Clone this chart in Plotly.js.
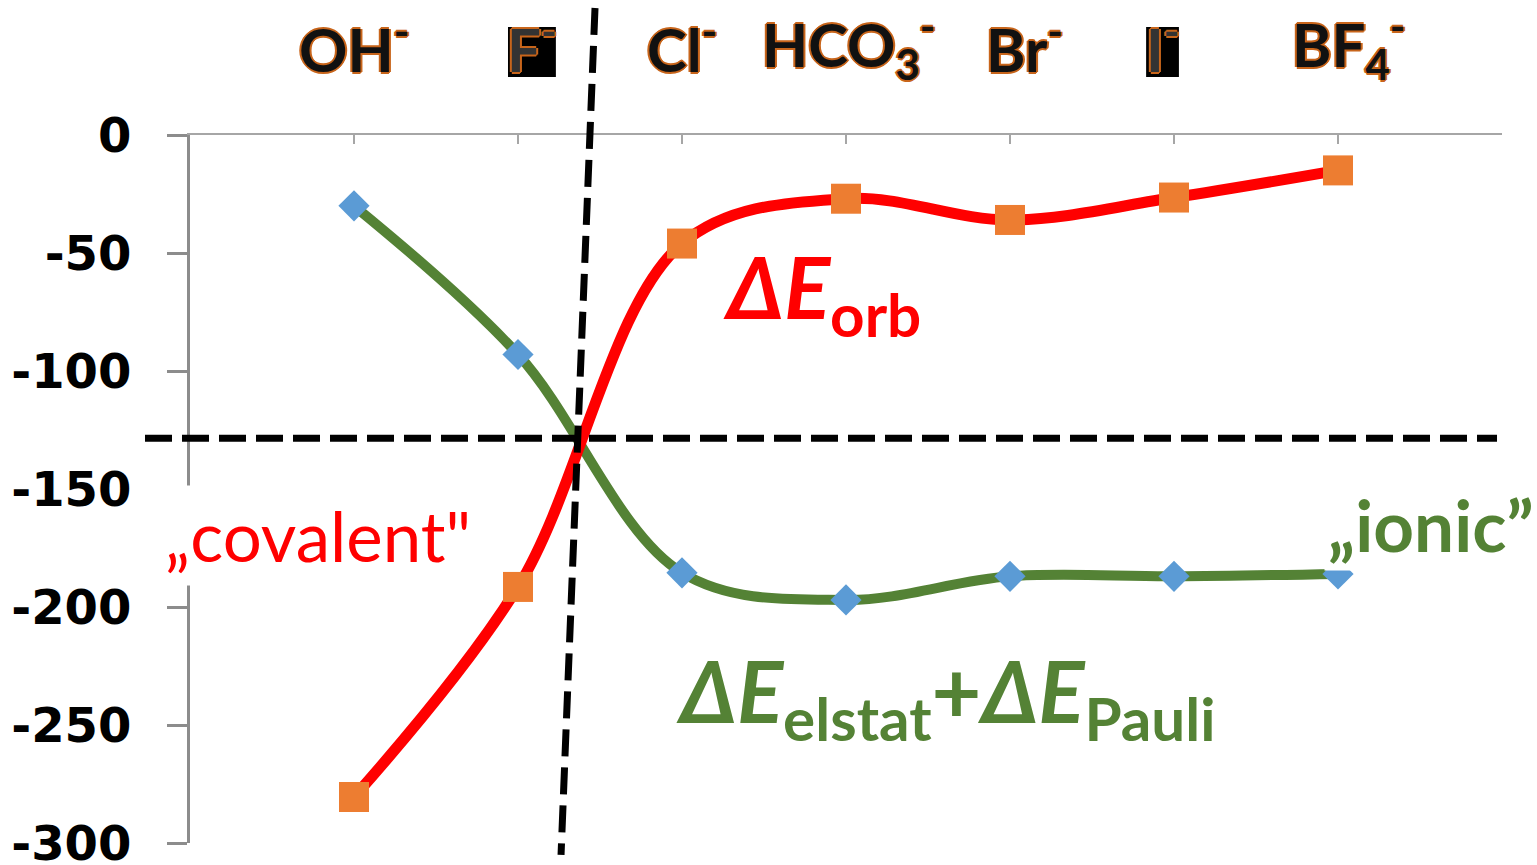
<!DOCTYPE html>
<html><head><meta charset="utf-8">
<script src="https://cdn.plot.ly/plotly-3.0.1.min.js"></script>
<style>html,body{margin:0;padding:0;background:#fff;overflow:hidden;}</style>
</head><body><div id="chart" style="width:1537px;height:865px;"></div>
<script>
// ---- data ----
const categories = ["OH<sup>-</sup>", "F<sup>-</sup>", "Cl<sup>-</sup>", "HCO<sub>3</sub><sup>-</sup>", "Br<sup>-</sup>", "I<sup>-</sup>", "BF<sub>4</sub><sup>-</sup>"];
const boxedLabels = [false, true, false, false, false, true, false];
const catPos = [1, 2, 3, 4, 5, 6, 7];
const labelOffset = [0, 0.085, 0, 0.02, 0.09, -0.07, 0.07];
const orbValues = [-280.5, -191.5, -46, -27, -36, -26.5, -15];
const elstatPauliValues = [-30, -93, -185.5, -197, -187, -187, -186];
const yTicks = [0, -50, -100, -150, -200, -250, -300];
const crossY = -128.5;

const yMin = -300, yMax = 0, xMin = 0, xMax = 8;
const toPaperY = v => (v - yMin) / (yMax - yMin);
const toPaperX = v => (v - xMin) / (xMax - xMin);

const green = '#548235';
const red = '#FF0000';
const outline = '#C8651B';
const wordArtShadow = `2px 0 ${outline}, -2px 0 ${outline}, 0 2px ${outline}, 0 -2px ${outline}, 1px 1px ${outline}, -1px -1px ${outline}`;

const traces = [
  {
    x: catPos, y: elstatPauliValues, type: 'scatter', mode: 'lines+markers',
    line: {color: green, width: 10, shape: 'spline', smoothing: 1},
    marker: {symbol: 'diamond', size: 24, color: '#5B9BD5'},
    hoverinfo: 'skip'
  },
  {
    x: catPos, y: orbValues, type: 'scatter', mode: 'lines+markers',
    line: {color: red, width: 11, shape: 'spline', smoothing: 1},
    marker: {symbol: 'square', size: 30, color: '#ED7D31'},
    hoverinfo: 'skip'
  }
];

const labelY = 1.127;
const annotations = categories.map((c, i) => ({
  x: catPos[i] + labelOffset[i], xref: 'x', y: labelY, yref: 'paper',
  text: c, showarrow: false, xanchor: 'center', yanchor: 'middle',
  font: {family: 'Lato', size: 60, weight: 'bold', color: boxedLabels[i] ? '#333333' : '#111111', shadow: wordArtShadow}
}));

annotations.push(
  {x: 3.24, xref: 'x', y: -66.5, yref: 'y', xanchor: 'left', yanchor: 'middle', showarrow: false,
   text: '<i>ΔE</i><sub>orb</sub>', font: {family: 'Lato', size: 86, weight: 'bold', color: red}},
  {x: 4.61, xref: 'x', y: -237.5, yref: 'y', xanchor: 'center', yanchor: 'middle', showarrow: false,
   text: '<i>ΔE</i><sub>elstat</sub>+<i>ΔE</i><sub>Pauli</sub>', font: {family: 'Lato', size: 86, weight: 'bold', color: green}},
  {x: 0.78, xref: 'x', y: -169.5, yref: 'y', xanchor: 'center', yanchor: 'middle', showarrow: false,
   text: '„covalent"', bgcolor: '#ffffff', borderpad: 8, font: {family: 'Lato', size: 69, color: red}},
  {x: 7.567, xref: 'x', y: -165, yref: 'y', xanchor: 'center', yanchor: 'middle', showarrow: false,
   text: '„ionic”', bgcolor: '#ffffff', borderpad: 3, font: {family: 'Lato', size: 71, weight: 'bold', color: green}}
);

// black boxes behind the F- and I- labels
const boxHalfW = [0, 0.146, 0, 0, 0, 0.10, 0];
const shapes = [];
categories.forEach((c, i) => {
  if (!boxedLabels[i]) return;
  const cx = catPos[i] + labelOffset[i];
  shapes.push({type: 'rect', xref: 'paper', yref: 'paper',
    x0: toPaperX(cx - boxHalfW[i]), x1: toPaperX(cx + boxHalfW[i]), y0: 1.0819, y1: 1.1525,
    fillcolor: '#000', line: {width: 0}, layer: 'above'});
});
shapes.push(
  {type: 'line', xref: 'paper', yref: 'paper', x0: -0.0343, x1: 0.9962, y0: toPaperY(crossY), y1: toPaperY(crossY),
   line: {color: '#000', width: 7, dash: '27px,10px'}, layer: 'above'},
  {type: 'line', xref: 'paper', yref: 'paper', x0: 0.3087, y0: 1.1794, x1: 0.2828, y1: -0.0169,
   line: {color: '#000', width: 7, dash: '27px,11px'}, layer: 'above'}
);

const layout = {
  width: 1537, height: 865,
  margin: {l: 190, r: 35, t: 135, b: 22, pad: 0},
  paper_bgcolor: '#fff', plot_bgcolor: '#fff',
  showlegend: false,
  xaxis: {range: [xMin, xMax], side: 'top', showline: true, linecolor: '#a6a6a6', linewidth: 2,
          ticks: 'inside', ticklen: 9, tickwidth: 2, tickcolor: '#a6a6a6',
          tickvals: [0, 1, 2, 3, 4, 5, 6, 7, 8], showticklabels: false, showgrid: false, zeroline: false, fixedrange: true},
  yaxis: {range: [yMin, yMax], tickvals: yTicks, ticktext: yTicks.map(String),
          ticks: 'outside', ticklen: 20, tickwidth: 3, tickcolor: '#8c8c8c',
          showline: true, linecolor: '#8c8c8c', linewidth: 3, showgrid: false, zeroline: false,
          ticklabelstandoff: 26, ticklabeloverflow: 'allow',
          tickfont: {family: 'DejaVu Sans', size: 48, weight: 'bold', color: '#000'}, fixedrange: true},
  annotations: annotations,
  shapes: shapes
};

Plotly.newPlot('chart', traces, layout, {displayModeBar: false, staticPlot: true});
</script>
</body></html>
